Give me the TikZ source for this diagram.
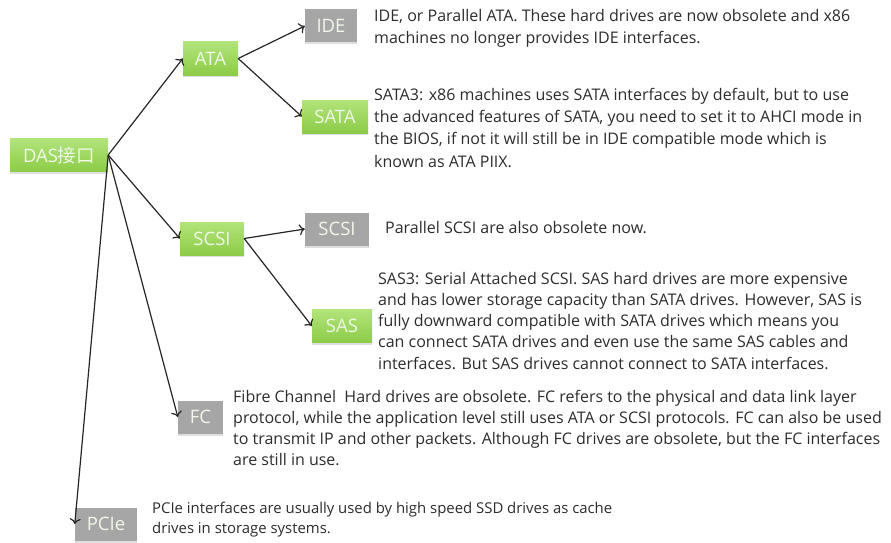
\documentclass[tikz,border=0pt]{standalone}
\usepackage{fontspec}
\setmainfont{Open Sans}
\newfontfamily\cjkfont{Noto Sans CJK SC}
\usetikzlibrary{arrows.meta,shadows}

\definecolor{greenTop}{RGB}{178,228,122}
\definecolor{greenBot}{RGB}{140,204,72}
\definecolor{grayBox}{RGB}{166,166,166}
\definecolor{bodyText}{RGB}{45,45,45}
\definecolor{labelText}{RGB}{240,247,232}

\begin{document}
\begin{tikzpicture}[x=1pt,y=-1pt,
  box/.style={minimum height=33pt, inner sep=0pt, text=labelText,
    font=\fontsize{18.5}{20}\selectfont,
    drop shadow={shadow xshift=0pt, shadow yshift=-2pt, opacity=0.25}},
  greenbox/.style={box, top color=greenTop, bottom color=greenBot},
  graybox/.style={box, fill=grayBox},
  link/.style={draw=black!85, line width=1.2pt, -{To[length=5.5pt,width=11pt]}},
  desc/.style={anchor=north west, align=left, inner sep=0pt, text=bodyText,
    font=\fontsize{16}{22}\selectfont}
]
% canvas
\fill[white] (0,0) rectangle (891,543);
\useasboundingbox (0,0) rectangle (891,543);

% interface boxes
\node[greenbox, minimum width=98pt] (das) at (59,155) {DAS{\cjkfont 接口}};
\node[greenbox, minimum width=55pt] (ata) at (210.5,58.5) {ATA};
\node[graybox, minimum width=52pt] (ide) at (331,26) {IDE};
\node[greenbox, minimum width=66pt] (sata) at (335,116.5) {SATA};
\node[greenbox, minimum width=64pt] (scsi) at (212,238.5) {SCSI};
\node[graybox, minimum width=64pt] (pscsi) at (337,229) {SCSI};
\node[greenbox, minimum width=60pt] (sas) at (342,326) {SAS};
\node[graybox, minimum width=45pt] (fc) at (200.5,417) {FC};
\node[graybox, minimum width=62pt] (pcie) at (106,524) {PCIe};

% connectors
\draw[link] (das.east) -- (ata.west);
\draw[link] (das.east) -- (scsi.west);
\draw[link] (das.east) -- (fc.west);
\draw[link] (das.east) -- (pcie.west);
\draw[link] (ata.east) -- (ide.west);
\draw[link] (ata.east) -- (sata.west);
\draw[link] (scsi.east) -- (pscsi.west);
\draw[link] (scsi.east) -- (sas.west);

% descriptions
\node[desc] (tide) at (374,9) {IDE, or Parallel ATA. These hard drives are now obsolete and x86\\machines no longer provides IDE interfaces.};
\node[desc, font=\fontsize{16}{22.2}\selectfont] (tsata) at (374,88) {SATA3: x86 machines uses SATA interfaces by default, but to use\\the advanced features of SATA, you need to set it to AHCI mode in\\the BIOS, if not it will still be in IDE compatible mode which is\\known as ATA PIIX.};
\node[desc] (tscsi) at (385,221) {Parallel SCSI are also obsolete now.};
\node[desc, font=\fontsize{16}{21.2}\selectfont] (tsas) at (378,272) {SAS3: Serial Attached SCSI. SAS hard drives are more expensive\\and has lower storage capacity than SATA drives. However, SAS is\\fully downward compatible with SATA drives which means you\\can connect SATA drives and even use the same SAS cables and\\interfaces. But SAS drives cannot connect to SATA interfaces.};
\node[desc, font=\fontsize{16}{21}\selectfont] (tfc) at (233,390) {Fibre Channel\ \ Hard drives are obsolete. FC refers to the physical and data link layer\\protocol, while the application level still uses ATA or SCSI protocols. FC can also be used\\to transmit IP and other packets. Although FC drives are obsolete, but the FC interfaces\\are still in use.};
\node[desc, font=\fontsize{14.9}{19.5}\selectfont] (tpcie) at (152,502) {PCIe interfaces are usually used by high speed SSD drives as cache\\drives in storage systems.};
\end{tikzpicture}
\end{document}
